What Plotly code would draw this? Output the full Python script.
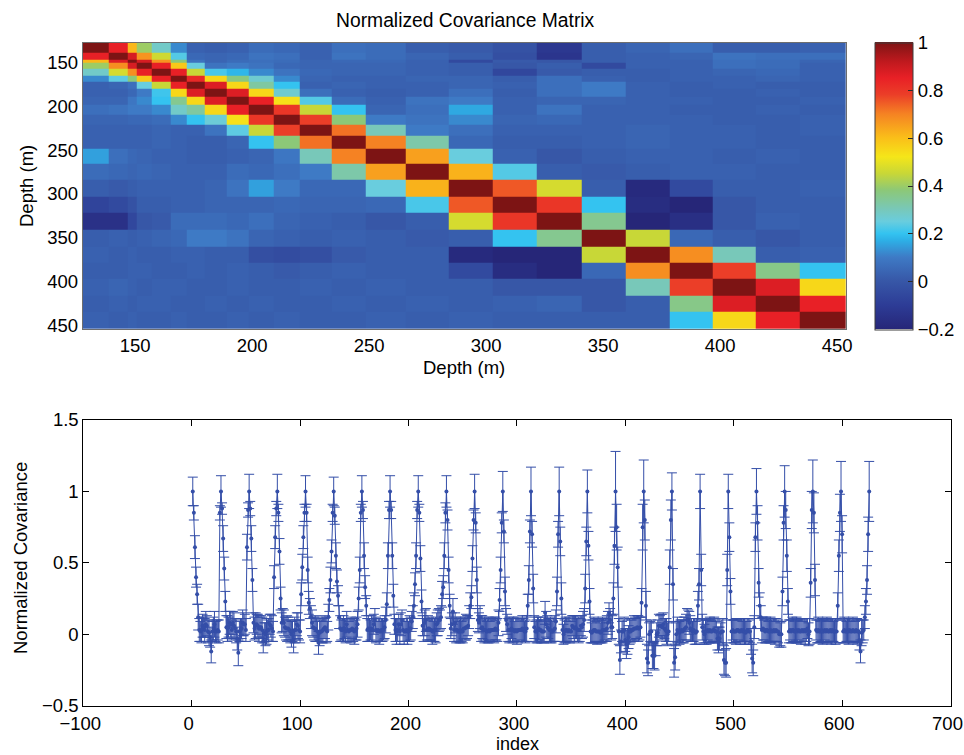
import plotly.graph_objects as go

# Depth levels (m) of the 25 instruments (cell edges of the pcolor display)
DEPTHS = [127.6, 138.8, 146.7, 150.7, 157.1, 165.0, 172.1, 179.9, 189.2, 198.4,
          209.1, 220.5, 233.8, 248.7, 265.8, 284.2, 302.7, 321.7, 340.9, 359.7,
          378.3, 396.9, 415.3, 433.9, 453.8]

# Normalized covariance matrix (25 x 25)
COV = [
    [1.00, 0.85, 0.61, 0.40, 0.28, 0.12, 0.03, 0.02, 0.03, 0.06, 0.05, 0.03, 0.07, 0.06, 0.02, 0.01, -0.02, -0.12, 0.02, 0.04, 0.07, 0.02, 0.02, 0.03, 0.02],
    [0.85, 1.00, 0.88, 0.67, 0.46, 0.23, 0.05, 0.04, 0.05, 0.08, 0.07, 0.03, 0.08, 0.06, 0.04, 0.02, -0.03, -0.13, 0.02, 0.03, 0.04, 0.08, 0.07, 0.07, 0.03],
    [0.61, 0.87, 1.00, 0.88, 0.67, 0.38, 0.08, 0.04, 0.06, 0.07, 0.06, 0.04, 0.05, 0.05, 0.03, -0.05, 0.01, 0.00, 0.02, 0.03, 0.03, 0.07, 0.06, 0.04, 0.02],
    [0.40, 0.68, 0.88, 1.00, 0.85, 0.58, 0.25, 0.08, 0.10, 0.08, 0.05, 0.04, 0.04, 0.04, 0.03, 0.02, 0.00, 0.02, -0.05, 0.03, 0.03, 0.07, 0.06, 0.03, 0.02],
    [0.28, 0.47, 0.68, 0.85, 1.00, 0.85, 0.45, 0.22, 0.18, 0.12, 0.08, 0.05, 0.04, 0.04, 0.03, 0.02, -0.06, 0.01, 0.02, 0.02, 0.03, 0.04, 0.05, 0.03, 0.02],
    [0.12, 0.24, 0.38, 0.58, 0.85, 1.00, 0.83, 0.55, 0.37, 0.27, 0.12, 0.04, 0.03, 0.03, 0.04, 0.04, 0.02, 0.07, 0.03, 0.02, 0.03, 0.03, 0.04, 0.03, 0.02],
    [0.03, 0.04, 0.07, 0.25, 0.45, 0.85, 1.00, 0.87, 0.55, 0.33, 0.20, 0.03, 0.04, 0.03, 0.03, 0.04, 0.03, 0.07, 0.10, 0.03, 0.02, 0.03, 0.02, 0.02, 0.03],
    [0.03, 0.03, 0.05, 0.10, 0.21, 0.55, 0.87, 1.00, 0.87, 0.55, 0.27, 0.07, 0.03, 0.02, 0.03, 0.07, 0.02, 0.07, 0.10, 0.03, 0.02, 0.02, 0.03, 0.02, 0.02],
    [0.04, 0.04, 0.09, 0.12, 0.20, 0.35, 0.55, 0.87, 1.00, 0.85, 0.53, 0.23, 0.06, 0.03, 0.08, 0.10, 0.03, 0.04, 0.04, 0.03, 0.03, 0.02, 0.02, 0.03, 0.03],
    [0.07, 0.08, 0.10, 0.10, 0.12, 0.28, 0.33, 0.55, 0.85, 1.00, 0.80, 0.45, 0.20, 0.04, 0.07, 0.16, 0.03, 0.08, 0.03, 0.03, 0.02, 0.02, 0.03, 0.02, 0.02],
    [0.04, 0.04, 0.05, 0.05, 0.06, 0.12, 0.20, 0.26, 0.53, 0.80, 1.00, 0.78, 0.38, 0.10, 0.08, 0.12, 0.04, 0.05, 0.03, 0.03, 0.03, 0.02, 0.02, 0.03, 0.02],
    [0.03, 0.03, 0.03, 0.03, 0.04, 0.03, 0.03, 0.08, 0.24, 0.45, 0.78, 1.00, 0.72, 0.30, 0.10, 0.07, 0.03, 0.03, 0.03, 0.04, 0.03, 0.03, 0.02, 0.03, 0.02],
    [0.03, 0.03, 0.03, 0.03, 0.04, 0.03, 0.02, 0.02, 0.04, 0.20, 0.38, 0.72, 1.00, 0.70, 0.32, 0.05, 0.02, 0.02, 0.03, 0.04, 0.03, 0.03, 0.02, 0.02, 0.02],
    [0.15, 0.07, 0.05, 0.04, 0.03, 0.03, 0.02, 0.02, 0.03, 0.04, 0.09, 0.30, 0.70, 1.00, 0.65, 0.25, 0.03, 0.00, 0.02, 0.03, 0.03, 0.02, 0.03, 0.02, 0.02],
    [0.06, 0.05, 0.04, 0.05, 0.04, 0.03, 0.03, 0.03, 0.06, 0.05, 0.07, 0.10, 0.32, 0.65, 1.00, 0.62, 0.23, 0.02, 0.01, 0.02, 0.03, 0.03, 0.02, 0.02, 0.02],
    [0.02, 0.01, 0.02, 0.03, 0.03, 0.03, 0.03, 0.04, 0.08, 0.15, 0.10, 0.05, 0.05, 0.25, 0.62, 1.00, 0.75, 0.47, 0.02, -0.18, -0.05, 0.02, 0.02, 0.03, -0.04],
    [-0.07, -0.05, -0.02, 0.02, 0.02, 0.03, 0.03, 0.04, 0.04, 0.04, 0.05, 0.04, 0.04, 0.05, 0.22, 0.75, 1.00, 0.80, 0.20, -0.17, -0.20, 0.00, 0.02, 0.02, -0.15],
    [-0.15, -0.15, -0.06, 0.00, 0.01, 0.06, 0.06, 0.06, 0.05, 0.07, 0.04, 0.03, 0.02, 0.00, 0.02, 0.47, 0.80, 1.00, 0.35, -0.20, -0.16, 0.00, 0.03, 0.02, 0.01],
    [0.02, 0.03, 0.02, 0.03, 0.04, 0.05, 0.10, 0.10, 0.08, 0.04, 0.03, 0.02, 0.03, 0.02, 0.01, 0.02, 0.20, 0.35, 1.00, 0.45, 0.05, 0.02, 0.00, 0.02, 0.02],
    [0.03, 0.02, 0.03, 0.02, 0.02, 0.03, 0.03, 0.02, 0.02, -0.03, -0.04, -0.03, 0.01, 0.02, 0.02, -0.18, -0.20, -0.20, 0.45, 1.00, 0.68, 0.30, 0.02, 0.03, 0.02],
    [0.02, 0.02, 0.03, 0.03, 0.02, 0.02, 0.03, 0.02, 0.03, 0.02, 0.01, 0.02, 0.03, 0.02, 0.02, -0.05, -0.17, -0.20, 0.05, 0.68, 1.00, 0.78, 0.36, 0.20, 0.12],
    [0.03, 0.04, 0.03, 0.02, 0.03, 0.03, 0.02, 0.02, 0.03, 0.02, 0.02, 0.03, 0.02, 0.03, 0.02, 0.02, 0.00, 0.00, 0.00, 0.30, 0.78, 1.00, 0.87, 0.55, 0.23],
    [0.02, 0.03, 0.02, 0.03, 0.03, 0.02, 0.02, 0.03, 0.02, 0.03, 0.02, 0.02, 0.03, 0.02, 0.03, 0.02, 0.03, 0.04, 0.00, 0.02, 0.36, 0.87, 1.00, 0.85, 0.38],
    [0.03, 0.02, 0.03, 0.02, 0.02, 0.03, 0.02, 0.02, 0.03, 0.02, 0.03, 0.02, 0.02, 0.03, 0.02, 0.03, 0.02, 0.02, 0.02, 0.02, 0.20, 0.55, 0.85, 1.00, 0.70],
    [0.02, 0.03, 0.02, 0.02, 0.03, 0.02, 0.03, 0.02, 0.02, 0.03, 0.02, 0.02, 0.03, 0.02, 0.02, -0.04, -0.12, 0.01, 0.02, 0.03, 0.12, 0.23, 0.38, 0.70, 1.00],
]

# Error bar half-widths (25 x 25)
ERR = [
    [0.10, 0.05, 0.08, 0.07, 0.07, 0.09, 0.08, 0.07, 0.09, 0.08, 0.07, 0.08, 0.09, 0.07, 0.08, 0.09, 0.07, 0.08, 0.07, 0.08, 0.09, 0.07, 0.08, 0.07, 0.08],
    [0.05, 0.11, 0.04, 0.09, 0.08, 0.07, 0.08, 0.09, 0.07, 0.08, 0.09, 0.07, 0.08, 0.09, 0.07, 0.08, 0.08, 0.09, 0.07, 0.08, 0.07, 0.09, 0.08, 0.07, 0.08],
    [0.09, 0.05, 0.12, 0.05, 0.09, 0.08, 0.07, 0.08, 0.09, 0.07, 0.08, 0.09, 0.07, 0.08, 0.09, 0.08, 0.07, 0.08, 0.09, 0.07, 0.08, 0.07, 0.08, 0.09, 0.07],
    [0.08, 0.08, 0.05, 0.12, 0.06, 0.09, 0.08, 0.07, 0.08, 0.09, 0.07, 0.08, 0.09, 0.08, 0.07, 0.08, 0.09, 0.07, 0.08, 0.09, 0.07, 0.08, 0.09, 0.07, 0.08],
    [0.08, 0.09, 0.08, 0.06, 0.11, 0.06, 0.09, 0.08, 0.07, 0.08, 0.09, 0.07, 0.08, 0.09, 0.08, 0.07, 0.08, 0.09, 0.07, 0.08, 0.09, 0.07, 0.08, 0.09, 0.07],
    [0.09, 0.08, 0.09, 0.08, 0.06, 0.10, 0.06, 0.09, 0.08, 0.07, 0.08, 0.09, 0.07, 0.08, 0.09, 0.07, 0.08, 0.09, 0.08, 0.07, 0.08, 0.09, 0.07, 0.08, 0.09],
    [0.07, 0.08, 0.09, 0.08, 0.09, 0.06, 0.11, 0.06, 0.09, 0.08, 0.07, 0.08, 0.09, 0.08, 0.07, 0.09, 0.08, 0.07, 0.08, 0.09, 0.07, 0.08, 0.09, 0.07, 0.08],
    [0.08, 0.07, 0.08, 0.09, 0.08, 0.09, 0.06, 0.11, 0.06, 0.09, 0.08, 0.07, 0.08, 0.09, 0.08, 0.07, 0.09, 0.08, 0.07, 0.08, 0.09, 0.07, 0.08, 0.09, 0.07],
    [0.09, 0.08, 0.07, 0.08, 0.09, 0.08, 0.09, 0.06, 0.11, 0.06, 0.09, 0.08, 0.07, 0.08, 0.09, 0.08, 0.07, 0.09, 0.08, 0.07, 0.08, 0.09, 0.07, 0.08, 0.09],
    [0.08, 0.09, 0.08, 0.07, 0.08, 0.09, 0.08, 0.09, 0.07, 0.11, 0.07, 0.09, 0.08, 0.07, 0.08, 0.09, 0.08, 0.07, 0.09, 0.08, 0.07, 0.08, 0.09, 0.07, 0.08],
    [0.07, 0.08, 0.09, 0.08, 0.07, 0.08, 0.09, 0.08, 0.09, 0.07, 0.12, 0.07, 0.09, 0.08, 0.07, 0.08, 0.09, 0.08, 0.07, 0.09, 0.08, 0.07, 0.08, 0.09, 0.07],
    [0.08, 0.07, 0.08, 0.09, 0.08, 0.07, 0.08, 0.09, 0.08, 0.09, 0.07, 0.14, 0.08, 0.10, 0.08, 0.07, 0.08, 0.09, 0.08, 0.07, 0.09, 0.08, 0.07, 0.08, 0.09],
    [0.09, 0.08, 0.07, 0.08, 0.09, 0.08, 0.07, 0.08, 0.09, 0.08, 0.10, 0.08, 0.17, 0.09, 0.10, 0.08, 0.07, 0.08, 0.09, 0.08, 0.07, 0.09, 0.08, 0.07, 0.08],
    [0.08, 0.09, 0.08, 0.07, 0.08, 0.09, 0.08, 0.07, 0.08, 0.09, 0.08, 0.10, 0.09, 0.17, 0.10, 0.11, 0.08, 0.07, 0.08, 0.09, 0.08, 0.07, 0.09, 0.08, 0.07],
    [0.07, 0.08, 0.09, 0.08, 0.07, 0.08, 0.09, 0.08, 0.07, 0.08, 0.09, 0.08, 0.10, 0.10, 0.15, 0.10, 0.09, 0.08, 0.07, 0.08, 0.09, 0.08, 0.07, 0.09, 0.08],
    [0.08, 0.07, 0.08, 0.09, 0.08, 0.07, 0.08, 0.09, 0.08, 0.07, 0.08, 0.09, 0.08, 0.11, 0.13, 0.28, 0.16, 0.14, 0.09, 0.10, 0.08, 0.07, 0.08, 0.09, 0.08],
    [0.10, 0.09, 0.08, 0.09, 0.08, 0.07, 0.08, 0.09, 0.08, 0.07, 0.08, 0.09, 0.08, 0.07, 0.10, 0.16, 0.22, 0.14, 0.10, 0.10, 0.09, 0.08, 0.07, 0.08, 0.09],
    [0.09, 0.10, 0.09, 0.08, 0.09, 0.08, 0.07, 0.08, 0.09, 0.08, 0.07, 0.08, 0.09, 0.08, 0.07, 0.12, 0.14, 0.13, 0.11, 0.10, 0.09, 0.08, 0.09, 0.07, 0.08],
    [0.08, 0.07, 0.08, 0.09, 0.08, 0.09, 0.08, 0.07, 0.08, 0.09, 0.08, 0.07, 0.08, 0.09, 0.08, 0.09, 0.10, 0.11, 0.12, 0.11, 0.09, 0.08, 0.07, 0.08, 0.09],
    [0.07, 0.08, 0.09, 0.08, 0.07, 0.08, 0.09, 0.08, 0.07, 0.08, 0.09, 0.08, 0.07, 0.08, 0.09, 0.10, 0.09, 0.10, 0.11, 0.12, 0.10, 0.09, 0.08, 0.07, 0.08],
    [0.08, 0.09, 0.08, 0.07, 0.08, 0.09, 0.08, 0.07, 0.08, 0.09, 0.08, 0.07, 0.08, 0.09, 0.08, 0.09, 0.10, 0.09, 0.08, 0.10, 0.16, 0.12, 0.10, 0.09, 0.08],
    [0.09, 0.08, 0.07, 0.08, 0.09, 0.08, 0.07, 0.08, 0.09, 0.08, 0.07, 0.08, 0.09, 0.08, 0.07, 0.08, 0.09, 0.08, 0.09, 0.10, 0.12, 0.18, 0.13, 0.11, 0.09],
    [0.08, 0.07, 0.08, 0.09, 0.08, 0.07, 0.08, 0.09, 0.08, 0.07, 0.08, 0.09, 0.08, 0.07, 0.08, 0.09, 0.08, 0.07, 0.08, 0.09, 0.10, 0.13, 0.22, 0.14, 0.11],
    [0.07, 0.08, 0.09, 0.08, 0.07, 0.08, 0.09, 0.08, 0.07, 0.08, 0.09, 0.08, 0.07, 0.08, 0.09, 0.08, 0.07, 0.08, 0.09, 0.08, 0.09, 0.11, 0.13, 0.21, 0.13],
    [0.08, 0.09, 0.08, 0.07, 0.08, 0.09, 0.08, 0.07, 0.08, 0.09, 0.08, 0.07, 0.08, 0.09, 0.08, 0.07, 0.08, 0.09, 0.08, 0.07, 0.08, 0.09, 0.10, 0.12, 0.21],
]

DEPTH_TICKS = [150, 200, 250, 300, 350, 400, 450]
CBAR_TICKS = [-0.2, 0, 0.2, 0.4, 0.6, 0.8, 1]

W, H = 964, 755
FONT = "Liberation Sans, Arial, Helvetica, sans-serif"
FS = 18.5
BLUE = "rgb(52,78,168)"


def px(x):
    return x / W


def py(y):
    return 1 - y / H


colorscale = [
    [0.000, "rgb(38,38,120)"],
    [0.083, "rgb(45,60,150)"],
    [0.167, "rgb(55,87,167)"],
    [0.250, "rgb(62,122,197)"],
    [0.308, "rgb(45,175,230)"],
    [0.333, "rgb(52,195,240)"],
    [0.375, "rgb(105,205,222)"],
    [0.417, "rgb(120,200,185)"],
    [0.483, "rgb(140,200,120)"],
    [0.542, "rgb(200,215,55)"],
    [0.600, "rgb(245,230,25)"],
    [0.667, "rgb(250,190,25)"],
    [0.750, "rgb(245,130,35)"],
    [0.817, "rgb(235,62,40)"],
    [0.875, "rgb(232,32,38)"],
    [0.933, "rgb(190,25,30)"],
    [1.000, "rgb(125,20,20)"],
]

n = len(DEPTHS)
# pcolor-style display drops the last row/column
Z = [row[:n - 1] for row in COV[:n - 1]]

idx = list(range(1, n * n + 1))
flat_cov = [v for row in COV for v in row]
flat_err = [v for row in ERR for v in row]

fig = go.Figure()
fig.add_trace(go.Heatmap(
    z=Z, x=DEPTHS, y=DEPTHS, zmin=-0.2, zmax=1, colorscale=colorscale,
    xaxis="x", yaxis="y", hoverinfo="skip",
    colorbar=dict(
        x=px(875), xanchor="left", xpad=0, ypad=0,
        y=py(42.5), yanchor="top", len=(329 - 42.5) / H, lenmode="fraction",
        thickness=38, thicknessmode="pixels",
        outlinewidth=1, outlinecolor="rgb(60,60,60)",
        tickvals=CBAR_TICKS, ticks="inside", ticklen=5, tickcolor="rgb(40,40,40)",
        tickfont=dict(size=FS, family=FONT, color="black"),
    ),
))
fig.add_trace(go.Scatter(
    x=idx, y=flat_cov, mode="lines+markers", xaxis="x2", yaxis="y2",
    line=dict(color=BLUE, width=1),
    marker=dict(color=BLUE, size=4),
    error_y=dict(type="data", array=flat_err, visible=True, color=BLUE,
                 thickness=1, width=5),
    showlegend=False,
))

tick_font = dict(size=FS, family=FONT, color="black")
heat_axis = dict(showgrid=False, zeroline=False, showline=True, mirror=True,
                 linecolor="rgb(110,110,110)", linewidth=1, ticks="",
                 tickfont=tick_font)
line_axis = dict(showgrid=False, zeroline=False, showline=True, mirror="ticks",
                 linecolor="black", linewidth=1, ticks="inside", ticklen=6,
                 tickcolor="black", tickfont=tick_font,
                 ticklabeloverflow="allow")

fig.update_layout(
    width=W, height=H,
    margin=dict(l=0, r=0, t=0, b=0, autoexpand=False),
    paper_bgcolor="white", plot_bgcolor="white",
    font=dict(family=FONT, size=FS, color="black"),
    showlegend=False,
    xaxis=dict(domain=[px(82.7), px(846)], range=[DEPTHS[0], DEPTHS[-1]],
               tickvals=DEPTH_TICKS, anchor="y", **heat_axis),
    yaxis=dict(domain=[py(329), py(42.7)], range=[DEPTHS[-1], DEPTHS[0]],
               tickvals=DEPTH_TICKS, anchor="x", **heat_axis),
    xaxis2=dict(domain=[px(83.3), px(950.5)], range=[-100, 700], dtick=100,
                anchor="y2", ticklabelshift=-3, ticklabelstandoff=1, **line_axis),
    yaxis2=dict(domain=[py(705.7), py(420)], range=[-0.5, 1.5], dtick=0.5,
                anchor="x2", **line_axis),
    annotations=[
        dict(text="Normalized Covariance Matrix", x=px(465), y=py(20),
             xref="paper", yref="paper", showarrow=False,
             xanchor="center", yanchor="middle", font=dict(size=19.3)),
        dict(text="Depth (m)", x=px(464), y=py(368),
             xref="paper", yref="paper", showarrow=False,
             xanchor="center", yanchor="middle", font=dict(size=FS)),
        dict(text="Depth (m)", x=px(27), y=py(186), textangle=-90,
             xref="paper", yref="paper", showarrow=False,
             xanchor="center", yanchor="middle", font=dict(size=FS)),
        dict(text="index", x=px(517), y=0, borderpad=0,
             xref="paper", yref="paper", showarrow=False,
             xanchor="center", yanchor="bottom", font=dict(size=18)),
        dict(text="Normalized Covariance", x=px(20), y=py(558), textangle=-90,
             xref="paper", yref="paper", showarrow=False,
             xanchor="center", yanchor="middle", font=dict(size=FS)),
    ],
)

# remove the browser's default 8 px page margin so the figure fills the window
fig.write_html("out.html",
               config={"displayModeBar": False},
               post_script="document.body.style.margin='0px';"
                           "document.body.style.overflow='hidden';")
